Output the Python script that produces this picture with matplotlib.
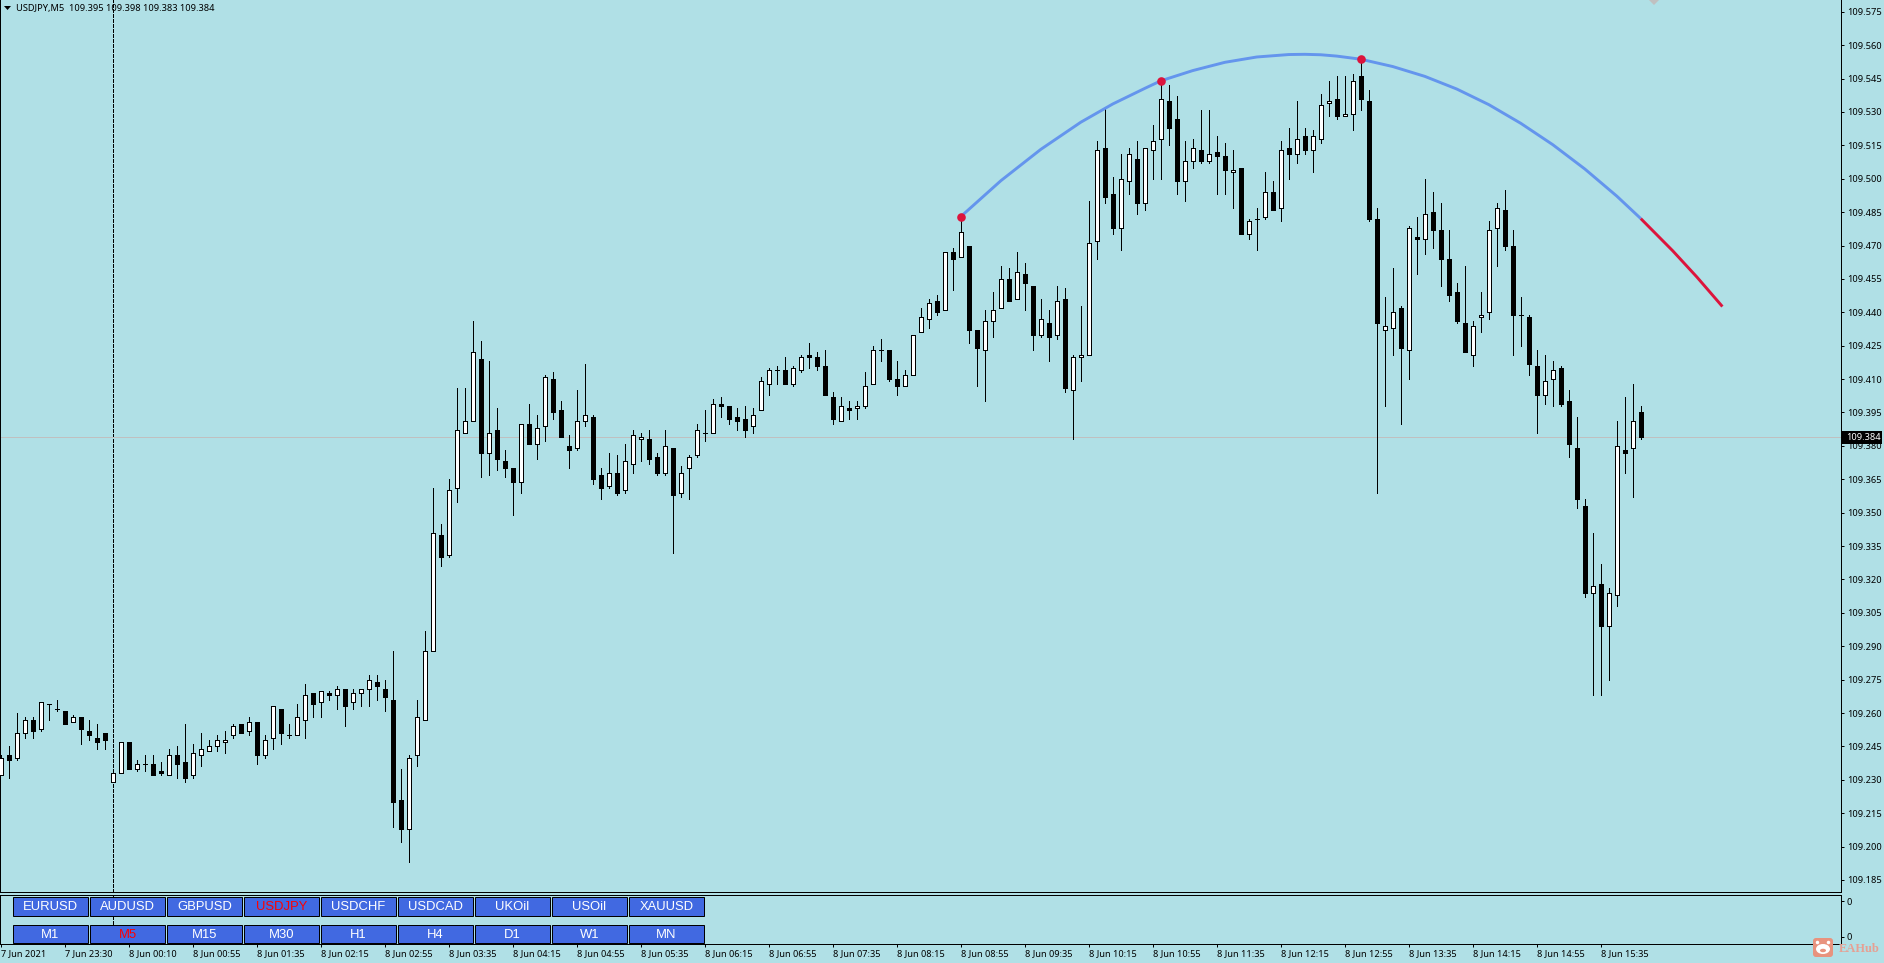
import numpy as np
import matplotlib
matplotlib.use("Agg")
import matplotlib.pyplot as plt
from matplotlib.patches import Rectangle, FancyBboxPatch, Ellipse, Polygon

# prices are thousandths above 109.000
open_pts = [
232,241,240,251,257,253,264,262,261,256,258,252,249,251,229,233,247,235,237,237,
234,232,241,238,232,241,243,245,247,250,255,252,256,241,249,262,250,250,257,269,
265,269,268,271,265,269,271,274,271,266,221,208,241,257,288,340,331,361,386,391,
419,377,387,373,370,364,390,381,389,410,396,380,379,391,393,367,362,368,360,372,
383,383,375,368,379,359,370,376,386,386,399,398,393,392,389,396,408,414,414,408,
414,421,420,416,402,391,397,397,398,408,423,423,410,407,412,431,437,445,441,467,
465,470,432,423,436,442,455,446,457,452,430,435,430,446,405,420,421,472,514,493,
478,499,509,489,513,518,535,527,499,508,513,508,512,510,503,505,475,482,483,494,
487,514,511,519,513,518,534,536,528,529,546,535,482,432,433,442,423,474,473,485,
477,464,449,435,421,438,440,478,486,470,439,438,416,403,410,415,400,379,353,314,
318,299,313,378,379,395]
high_pts = [
241,245,260,258,258,265,264,266,261,259,258,257,255,251,233,247,247,239,241,241,
238,244,245,255,246,251,248,250,252,255,255,258,256,250,263,262,255,264,273,269,
270,270,272,271,271,271,277,277,275,288,235,241,266,297,361,345,365,406,406,436,
427,418,397,378,370,390,399,394,412,413,400,385,405,417,394,370,377,376,381,387,
386,387,377,387,379,371,376,390,396,401,402,398,397,398,397,411,415,416,420,416,
421,426,422,423,404,402,400,400,413,425,428,423,418,414,430,442,446,448,467,469,
483,470,432,441,449,461,460,467,462,452,446,441,452,451,421,443,490,517,532,501,
511,514,517,514,524,543,542,537,517,518,531,531,519,516,513,505,482,487,503,499,
517,523,535,523,522,538,544,546,546,547,554,540,487,447,460,443,479,483,500,494,
489,477,453,461,436,449,481,489,495,477,447,439,423,421,418,416,405,393,356,341,
327,316,391,402,408,398]
low_pts = [
232,231,239,249,249,252,257,261,255,256,246,248,244,244,229,233,235,234,234,232,
232,232,231,229,231,236,243,243,242,249,251,250,237,240,244,246,249,250,249,258,
258,266,262,254,262,263,263,266,261,209,202,193,236,257,288,326,330,355,386,391,
366,367,369,366,349,359,381,374,382,392,384,370,378,389,363,356,361,358,359,368,
373,372,367,367,332,357,356,375,382,386,393,390,387,384,386,396,403,408,408,407,
413,415,414,403,390,391,392,392,397,408,418,409,403,407,412,431,433,439,441,450,
465,426,407,400,429,442,445,446,441,423,429,418,428,404,383,409,421,464,489,475,
468,493,484,486,500,500,515,493,490,505,507,507,493,493,487,475,473,468,482,486,
481,500,507,511,503,516,528,527,528,522,531,481,359,398,421,390,410,457,466,469,
452,445,435,422,416,431,437,461,468,421,425,412,386,399,398,398,375,352,312,268,
268,275,308,368,357,383]
close_pts = [
240,239,251,257,252,265,264,262,255,258,253,250,247,248,233,247,235,237,237,232,
233,241,237,231,242,244,245,248,248,254,251,256,241,248,263,251,250,258,268,264,
270,268,271,263,269,271,275,272,267,220,208,240,258,288,341,330,360,387,391,422,
377,386,374,370,364,390,381,388,411,395,384,378,391,394,365,361,368,359,373,385,
384,374,368,380,358,368,375,387,386,399,398,392,391,387,394,409,414,414,408,415,
420,420,416,403,392,398,396,398,407,423,423,410,407,412,430,438,444,440,467,464,
476,432,424,436,441,455,445,458,453,430,437,429,445,406,420,421,471,513,492,478,
500,511,489,514,517,536,523,499,508,514,508,511,510,504,504,475,481,482,494,486,
513,511,518,513,519,533,535,528,529,544,536,482,435,434,440,424,478,473,484,477,
464,448,436,422,434,439,477,487,470,439,439,417,403,409,414,399,381,356,314,317,
299,314,380,377,391,384]

curve_blue_i = [120,125,130,135,139,143,145,149,153,157,161,163,165,167,170,174,178,182,186,190,194,198,202,205]
curve_blue_p = [483,499.1,513.2,525.4,533.6,540.6,544,548.6,552.3,554.7,555.8,555.9,555.7,555.1,553.7,550.4,546,540.3,533.3,524.9,515.3,504.4,492.2,482.1]
curve_red_i = [205,209,212,215.2]
curve_red_p = [482.1,467.6,455.9,442.6]
fractal_i = [120,145,170]
fractal_p = [483,543.8,553.8]

price_ticks = [185 + 15*k for k in range(27)]
time_labels = ["7 Jun 2021","7 Jun 23:30","8 Jun 00:10","8 Jun 00:55","8 Jun 01:35","8 Jun 02:15",
 "8 Jun 02:55","8 Jun 03:35","8 Jun 04:15","8 Jun 04:55","8 Jun 05:35","8 Jun 06:15","8 Jun 06:55",
 "8 Jun 07:35","8 Jun 08:15","8 Jun 08:55","8 Jun 09:35","8 Jun 10:15","8 Jun 10:55","8 Jun 11:35",
 "8 Jun 12:15","8 Jun 12:55","8 Jun 13:35","8 Jun 14:15","8 Jun 14:55","8 Jun 15:35"]
symbols = ["EURUSD","AUDUSD","GBPUSD","USDJPY","USDCHF","USDCAD","UKOil","USOil","XAUUSD"]
periods = ["M1","M5","M15","M30","H1","H4","D1","W1","MN"]
active = {"USDJPY","M5"}
bid = 384
separator_i = 14

BG = "#B0E0E6"
PX = 0.72
W, H = 1884, 963
plt.rcParams["font.family"] = ["Noto Sans", "DejaVu Sans"]
fs_axis = 6.7

def P(v):
    return 109 + np.asarray(v, dtype=float)/1000

fig = plt.figure(figsize=(W/100, H/100), dpi=100, facecolor=BG)

# main pane
ax = fig.add_axes([0, (H-892)/H, 1840.5/W, 892/H], facecolor=BG)
xlim = (-0.1, (1840.5-0.8)/8)
ax.set_xlim(xlim)
ax.set_ylim(109.1796, 109.5803)
o, h, l, c = map(P, (open_pts, high_pts, low_pts, close_pts))
x = np.arange(len(o))
ax.vlines(x, l, h, color="black", lw=PX, antialiased=False, zorder=3)
ax.bar(x, c-o, bottom=o, width=0.5, color=["white" if cc > oo else "black" for oo, cc in zip(o, c)],
       edgecolor="black", linewidth=PX, antialiased=False, zorder=4)
ax.axhline(P(bid), color="#C0C0C0", lw=PX, antialiased=False, zorder=2)
ax.axvline(separator_i, color="black", lw=PX, ls=(0, (3, 2)), antialiased=False, zorder=1)
ax.plot(curve_blue_i, P(curve_blue_p), color="#6495ED", lw=2.1, zorder=5, solid_capstyle="butt")
ax.plot(curve_red_i, P(curve_red_p), color="#DC143C", lw=2.1, zorder=5, solid_capstyle="butt")
ax.plot(fractal_i, P(fractal_p), "o", color="#DC143C", ms=6.2, mew=0, zorder=6)
ax.spines["top"].set_visible(False)
for s in ax.spines.values():
    s.set_linewidth(PX)
ax.set_xticks([])
ax.yaxis.tick_right()
ax.set_yticks(P(price_ticks))
ax.set_yticklabels([f"{109+t/1000:.3f}" for t in price_ticks], fontsize=fs_axis)
ax.tick_params(axis="y", length=2.4, width=PX, pad=2.2, colors="black")

# lower pane with the time axis
tx = fig.add_axes([0, (H-943.5)/H, 1840.5/W, (943.5-894.6)/H], facecolor=BG)
tx.set_xlim(xlim)
tx.set_ylim(0, 1)
tx.axvline(separator_i, color="black", lw=PX, ls=(0, (3, 2)), antialiased=False)
for s in tx.spines.values():
    s.set_linewidth(PX)
tx.set_xticks(np.arange(len(time_labels))*8)
tx.set_xticklabels(time_labels, fontsize=6.6, ha="left")
tx.tick_params(axis="x", length=2.4, width=PX, pad=1.6)
tx.yaxis.tick_right()
tx.set_yticks([0.14, 0.86])
tx.set_yticklabels(["0", "0"], fontsize=fs_axis)
tx.tick_params(axis="y", length=2.4, width=PX, pad=2.2)

# overlay for the buttons, header and badges, in pixels
ov = fig.add_axes([0, 0, 1, 1])
ov.set_xlim(0, W)
ov.set_ylim(H, 0)
ov.axis("off")
for names, y0, y1 in ((symbols, 897.5, 916.5), (periods, 925.5, 943.5)):
    for k, name in enumerate(names):
        x0 = 13 + 77*k
        ov.add_patch(Rectangle((x0, y0), 75, y1-y0, fc="#4169E1", ec="black", lw=PX))
        ov.text(x0+37.5, (y0+y1)/2, name, color="#FF0000" if name in active else "white",
                ha="center", va="center", fontsize=9.4, family="Liberation Sans")

ov.add_patch(Polygon([(4, 6), (11, 6), (7.5, 10)], closed=True, fc="black", ec="none"))
ov.text(16.5, 8, "USDJPY,M5  109.395 109.398 109.383 109.384", fontsize=fs_axis, va="center", ha="left", color="black")
ov.plot([1654], [0], marker="D", ms=5, color="#C0C0C0", mew=0, clip_on=True)

# bid tag
tag_y = 12 + (575-bid)/0.4492
ov.add_patch(Rectangle((1842, tag_y-6.5), 40, 13, fc="black", ec="none", zorder=5))
ov.text(1846, tag_y, "109.384", color="white", fontsize=fs_axis, va="center", ha="left", zorder=6)

# watermark
ov.add_patch(FancyBboxPatch((1813, 938), 20, 19, boxstyle="round,pad=0,rounding_size=3", fc="#E8937E", ec="none", zorder=5))
ov.add_patch(Ellipse((1823, 949), 14, 10, fc="white", ec="none", zorder=6))
ov.add_patch(Ellipse((1817.5, 942.5), 3.5, 3.5, fc="white", ec="none", zorder=6))
ov.add_patch(Ellipse((1828.5, 942.5), 3.5, 3.5, fc="white", ec="none", zorder=6))
ov.add_patch(Ellipse((1823, 950.5), 6, 3.5, fc="#E8937E", ec="none", zorder=7))
ov.text(1838.5, 948.5, "EAHub", color="#E6A093", fontsize=9, fontweight="bold",
        family="Liberation Serif", va="center", ha="left", zorder=6)

fig.savefig("out.png", dpi=100, facecolor=BG)
